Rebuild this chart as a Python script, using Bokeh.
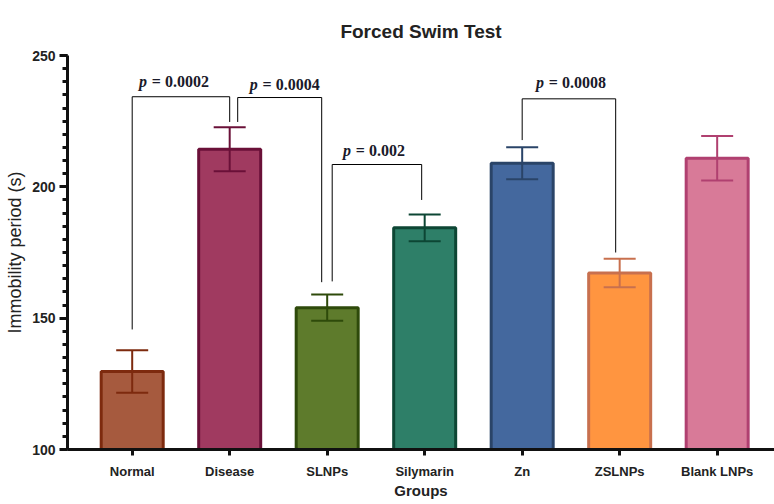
from bokeh.plotting import figure
from bokeh.models import Range1d, FixedTicker, ColumnDataSource
from bokeh.embed import file_html
from bokeh.resources import INLINE
from bokeh.core.properties import value

# ---------------- data ----------------
groups = ["Normal", "Disease", "SLNPs", "Silymarin", "Zn", "ZSLNPs", "Blank LNPs"]
means = [129.7, 214.3, 154.0, 184.4, 209.0, 167.2, 210.9]
errors = [8.1, 8.4, 5.0, 5.1, 6.1, 5.4, 8.5]
y_ticks = [100, 150, 200, 250]

bracket_from = ["Normal", "Disease", "SLNPs", "Zn"]
bracket_to = ["Disease", "SLNPs", "Silymarin", "ZSLNPs"]
bracket_top = [234.3, 234.0, 208.5, 233.5]
bracket_from_end = [145.7, 224.7, 164.0, 217.8]
bracket_to_end = [224.7, 163.7, 195.0, 175.0]
p_values = ["0.0002", "0.0004", "0.002", "0.0008"]
p_label_y = [240.0, 238.8, 213.7, 239.8]

# ---------------- styles ----------------
fills = ["#A65A3E", "#A03A60", "#5E7B2C", "#2E7F68", "#44689E", "#FF9540", "#D87A98"]
lines = ["#7D2A0E", "#6A1038", "#2E4A0A", "#0D4634", "#2A4468", "#C8704E", "#B04070"]
PX = 1 / 97.5                      # one pixel in category units
from_leg_px = [0, 8, 5, 0]          # leg offsets so neighbouring legs don't overlap
to_leg_px = [0, -5.5, -3, -4]
label_shift_px = [-7, 5, -3, 2]
BAR_W = 0.636
CAP_W = 32 * PX
FONT_PX = 16

xs = list(range(len(groups)))
bars = ColumnDataSource(dict(x=xs, top=means, fill=fills, line=lines))

p = figure(width=774, height=504, output_backend="svg", toolbar_location=None,
           x_range=Range1d(-0.6636, 6.588), y_range=Range1d(100, 250),
           min_border_left=67, min_border_right=0, min_border_top=55, min_border_bottom=55)
p.outline_line_color = None
p.xgrid.visible = False
p.ygrid.visible = False
p.background_fill_color = "white"

p.vbar(x="x", top="top", bottom=100, width=BAR_W, source=bars,
       fill_color="fill", line_color="line", line_width=3)

# error bars
lo = [m - e for m, e in zip(means, errors)]
hi = [m + e for m, e in zip(means, errors)]
p.segment(x0=xs, x1=xs, y0=lo, y1=hi, line_color=lines, line_width=2)
p.segment(x0=[x - CAP_W / 2 for x in xs], x1=[x + CAP_W / 2 for x in xs],
          y0=hi, y1=hi, line_color=lines, line_width=2)
p.segment(x0=[x - CAP_W / 2 for x in xs], x1=[x + CAP_W / 2 for x in xs],
          y0=lo, y1=lo, line_color=lines, line_width=2)

# significance brackets
bx0, bx1, by0, by1 = [], [], [], []
mids = []
for i in range(len(bracket_from)):
    xa = groups.index(bracket_from[i]) + from_leg_px[i] * PX
    xb = groups.index(bracket_to[i]) + to_leg_px[i] * PX
    t = bracket_top[i]
    bx0 += [xa, xa, xb]
    bx1 += [xa, xb, xb]
    by0 += [bracket_from_end[i], t, t]
    by1 += [t, t, bracket_to_end[i]]
    mids.append((xa + xb) / 2 + label_shift_px[i] * PX)
p.segment(x0=bx0, x1=bx1, y0=by0, y1=by1, line_color="black", line_width=1)

# p-value labels: italic "p" followed by upright "= value" (Times-like bold)
adv = {"p": 0.556, " ": 0.25, "=": 0.57, ".": 0.25}
def width(s):
    return sum(adv.get(c, 0.5) for c in s) * FONT_PX
rest = ["= " + v for v in p_values]
tot = [width("p ") + width(r) for r in rest]
lab = ColumnDataSource(dict(x=mids, y=p_label_y, rest=rest,
                            off_p=[-w / 2 for w in tot],
                            off_r=[-w / 2 + width("p ") for w in tot],
                            ptxt=["p"] * len(rest)))
p.text(x="x", y="y", text="ptxt", x_offset="off_p", source=lab,
       text_font=value("Liberation Serif"), text_font_style="bold italic",
       text_font_size=f"{FONT_PX}px", text_align="left", text_baseline="alphabetic",
       text_color="#1a1a2a")
p.text(x="x", y="y", text="rest", x_offset="off_r", source=lab,
       text_font=value("Liberation Serif"), text_font_style="bold",
       text_font_size=f"{FONT_PX}px", text_align="left", text_baseline="alphabetic",
       text_color="#1a1a2a")

# title
p.title.text = "Forced Swim Test"
p.title.align = "center"
p.title.vertical_align = "middle"
p.title.text_font = "Liberation Sans"
p.title.text_font_size = "19px"
p.title.text_font_style = "bold"
p.title.text_color = "#222222"
p.title.offset = 3
p.title.standoff = 26

# axes
ya = p.yaxis[0]
ya.ticker = FixedTicker(ticks=y_ticks, minor_ticks=list(range(100, 251, 5)))
ya.axis_line_width = 3
ya.axis_line_color = "#111111"
ya.major_tick_line_width = 3
ya.major_tick_line_color = "#111111"
ya.major_tick_in = 0
ya.major_tick_out = 8
ya.minor_tick_line_width = 3
ya.minor_tick_line_color = "#111111"
ya.minor_tick_in = 0
ya.minor_tick_out = 5
ya.major_label_text_font = "Liberation Sans"
ya.major_label_text_font_style = "bold"
ya.major_label_text_font_size = "14px"
ya.major_label_text_color = "#222222"
ya.major_label_standoff = 4
ya.axis_label = "Immobility period (s)"
ya.axis_label_text_font = "Liberation Sans"
ya.axis_label_text_font_style = "normal"
ya.axis_label_text_font_size = "18px"
ya.axis_label_text_color = "#222222"
ya.axis_label_standoff = 4

xa = p.xaxis[0]
xa.ticker = FixedTicker(ticks=xs)
xa.major_label_overrides = {i: g for i, g in enumerate(groups)}
xa.axis_line_width = 3
xa.axis_line_color = "#111111"
xa.major_tick_line_width = 3
xa.major_tick_line_color = "#111111"
xa.major_tick_in = 0
xa.major_tick_out = 6
xa.minor_tick_line_color = None
xa.major_label_text_font = "Liberation Sans"
xa.major_label_text_font_style = "bold"
xa.major_label_text_font_size = "13px"
xa.major_label_text_color = "#222222"
xa.major_label_standoff = 8
xa.axis_label = "Groups"
xa.axis_label_text_font = "Liberation Sans"
xa.axis_label_text_font_style = "bold"
xa.axis_label_text_font_size = "15px"
xa.axis_label_text_color = "#222222"
xa.axis_label_standoff = 0

open("out.html", "w").write(file_html(p, INLINE))
